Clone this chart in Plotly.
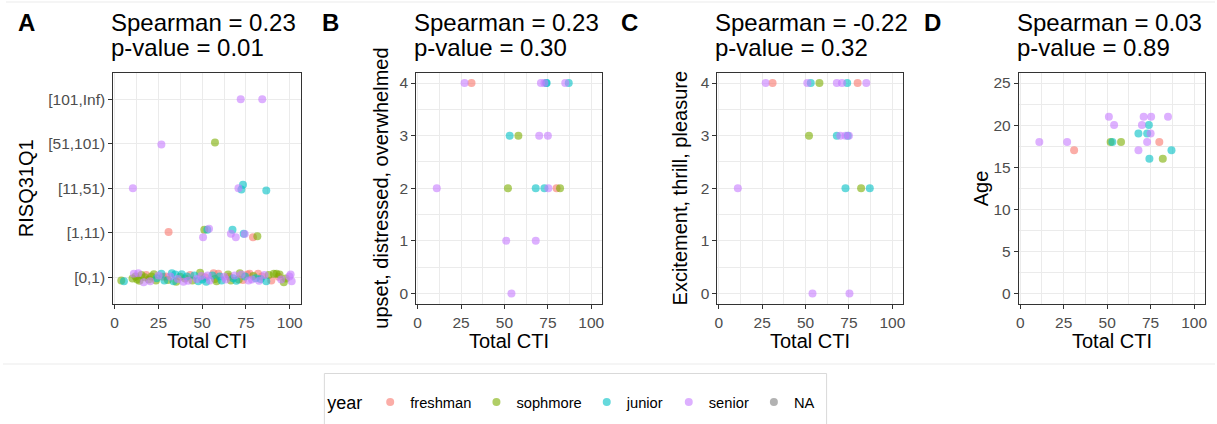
import plotly.graph_objects as go

# ---------------- data ----------------
year_names = {"fr": "freshman", "so": "sophmore", "ju": "junior", "se": "senior", "na": "NA"}
year_order = ["fr", "so", "ju", "se", "na"]
year_colors = {"fr": "#F8766D", "so": "#7CAE00", "ju": "#00BFC4", "se": "#C77CFF", "na": "#7F7F7F"}

# Panel A: RISQ31Q1 category (0..4, jittered) vs Total CTI
a_labels = ["[0,1)", "[1,11)", "[11,51)", "[51,101)", "[101,Inf)"]
a_cti = [72.0, 84.3, 26.7, 57.3, 10.4, 70.7, 72.4, 73.3, 86.6,
         30.8, 50.5, 51.2, 52.9, 53.9, 67.3, 66.4, 69.2, 73.7, 74.3, 79.0, 81.5,
         3.8, 5.3, 11.0, 11.9, 12.9, 15.3, 16.6, 18.0, 19.5, 21.0, 23.6, 25.1, 26.7, 28.4,
         29.3, 31.8, 33.6, 34.6, 36.1, 37.4, 39.3, 41.2, 43.1, 44.4, 46.9, 48.8, 50.1, 51.6,
         53.1, 54.4, 55.8, 57.3, 59.2, 61.1, 62.6, 64.8, 66.4, 67.7, 68.6, 70.9, 72.4, 75.8,
         77.1, 78.4, 80.5, 81.9, 83.4, 85.6, 86.6, 90.9, 92.4, 93.6, 95.1, 96.6, 99.8, 101.1,
         10.2, 13.5, 14.2, 17.2, 20.3, 22.4, 24.0, 27.6, 30.4, 32.7, 35.2, 38.3, 40.2, 42.0,
         45.5, 47.8, 49.5, 52.3, 56.5, 58.2, 60.0, 63.5, 65.5, 69.5, 71.5, 73.2, 74.5, 76.5,
         79.2, 82.5, 84.2, 88.0, 89.5, 94.2, 97.8, 100.5]
a_level = [4.0, 4.0, 2.98, 3.03, 2.0, 2.0, 1.97, 2.08, 1.95,
           1.02, 0.90, 1.07, 1.07, 1.09, 1.07, 0.98, 0.90, 0.98, 0.97, 0.90, 0.92,
           -0.07, -0.09, 0.08, 0.02, -0.05, 0.05, -0.11, 0.05, -0.05, 0.02, -0.07, 0.04, 0.08, -0.07,
           0.02, 0.02, -0.09, 0.06, -0.04, 0.01, -0.10, 0.02, 0.05, -0.07, -0.04, 0.10, -0.05, 0.00,
           0.04, -0.07, 0.04, -0.04, 0.08, -0.07, 0.01, 0.06, -0.07, -0.02, 0.04, -0.05, 0.06, 0.06,
           0.08, -0.05, -0.02, 0.08, -0.04, 0.05, -0.09, 0.08, 0.08, 0.01, -0.05, -0.11, 0.02, -0.09,
           -0.03, 0.09, -0.08, 0.00, -0.09, 0.07, -0.02, 0.01, -0.06, 0.09, -0.10, 0.07, -0.03, -0.08,
           0.04, -0.09, 0.03, -0.10, 0.09, -0.09, 0.02, -0.05, 0.01, -0.08, 0.09, -0.06, 0.02, -0.07,
           0.03, -0.08, 0.02, 0.05, -0.07, 0.06, -0.03, 0.06]
a_year = ["se", "se", "se", "so", "se", "se", "ju", "ju", "ju",
          "fr", "se", "so", "ju", "se", "ju", "se", "se", "ju", "se", "fr", "so",
          "so", "ju", "se", "so", "so", "so", "se", "fr", "so", "so", "so", "se", "ju", "ju",
          "fr", "se", "ju", "ju", "se", "so", "se", "ju", "fr", "so", "se", "so", "ju", "fr",
          "se", "se", "ju", "so", "fr", "ju", "se", "so", "so", "ju", "se", "so", "se", "fr",
          "fr", "se", "ju", "fr", "ju", "se", "ju", "so", "so", "fr", "se", "so", "se", "se",
          "so", "se", "so", "so", "se", "so", "ju", "fr", "so", "ju", "so", "ju", "so", "se",
          "ju", "ju", "se", "ju", "fr", "so", "ju", "se", "fr", "ju", "so", "fr", "ju", "se",
          "so", "se", "fr", "so", "fr", "so", "so", "se"]

# Panels B, C, D: subjects with emotion ratings and age
s_year = ["se", "se", "fr", "se", "so", "ju", "se", "so", "se", "ju", "se",
          "se", "ju", "se", "ju", "ju", "se", "se", "fr", "so", "se", "ju"]
s_cti = [11, 27, 31, 51, 52, 53, 54, 58, 68, 68, 70,
         71, 73, 73, 74, 74.3, 75, 75.3, 80, 82, 85, 87]
s_age = [18, 18, 17, 21, 18, 18, 20, 18, 17, 19, 20,
         21, 19, 18, 20, 16, 19, 21, 18, 16, 21, 17]
s_upset = [2, 4, 4, 1, 2, 3, 0, 3, 1, 2, 3,
           4, 2, 4, 4, 4, 3, 2, 2, 2, 4, 4]
s_excite = [2, 4, 4, 4, 3, 4, 0, 4, 4, 3, 3,
            4, 2, 3, 4, 3, 3, 0, 4, 2, 4, 2]

titles = [("A", "Spearman = 0.23", "p-value = 0.01", "RISQ31Q1"),
          ("B", "Spearman = 0.23", "p-value = 0.30", "upset, distressed, overwhelmed"),
          ("C", "Spearman = -0.22", "p-value = 0.32", "Excitement, thrill, pleasure"),
          ("D", "Spearman = 0.03", "p-value = 0.89", "Age")]

# ---------------- layout helpers ----------------
W, H = 1217, 424
FONT = "Liberation Sans, Arial, Helvetica, sans-serif"
panel_left = [110.7, 415.0, 717.3, 1020.0]
panel_right = [299.0, 601.7, 904.0, 1207.0]
panel_top, panel_bottom = 72.5, 304.0


def px(x):
    return x / W


def py(y):
    return 1 - y / H


fig = go.Figure()
marker_common = dict(size=8, opacity=0.6, line=dict(width=0))

# Panel A traces (carry the legend)
for yk in year_order:
    xs = [x for x, yr in zip(a_cti, a_year) if yr == yk]
    ys = [y for y, yr in zip(a_level, a_year) if yr == yk]
    if not xs:
        xs, ys = [None], [None]
    fig.add_trace(go.Scatter(x=xs, y=ys, mode="markers", name=year_names[yk],
                             legendgroup=yk, showlegend=True,
                             marker=dict(color=year_colors[yk], **marker_common),
                             xaxis="x", yaxis="y"))

panel_vals = [s_upset, s_excite, s_age]
for i, vals in enumerate(panel_vals):
    ax = str(i + 2)
    for yk in year_order[:4]:
        xs = [x for x, yr in zip(s_cti, s_year) if yr == yk]
        ys = [v for v, yr in zip(vals, s_year) if yr == yk]
        fig.add_trace(go.Scatter(x=xs, y=ys, mode="markers", name=year_names[yk],
                                 legendgroup=yk, showlegend=False,
                                 marker=dict(color=year_colors[yk], **marker_common),
                                 xaxis="x" + ax, yaxis="y" + ax))

axis_common = dict(showline=True, mirror=True, linecolor="#333333", linewidth=1,
                   ticks="outside", ticklen=4, tickwidth=1, tickcolor="#333333",
                   tickfont=dict(family=FONT, size=15.5, color="#4D4D4D"),
                   showgrid=True, gridcolor="#EBEBEB", gridwidth=1.3, zeroline=False)

layout = dict(width=W, height=H, margin=dict(l=0, r=0, t=0, b=0),
              paper_bgcolor="white", plot_bgcolor="white",
              font=dict(family=FONT, color="black"))

ydom = [py(panel_bottom), py(panel_top)]
for i in range(4):
    sfx = "" if i == 0 else str(i + 1)
    layout["xaxis" + sfx] = dict(domain=[px(panel_left[i]), px(panel_right[i])],
                                 anchor="y" + sfx, range=[-0.8, 106.3],
                                 tickvals=[0, 25, 50, 75, 100], ticklabelstandoff=0,
                                 minor=dict(tickvals=[12.5, 37.5, 62.5, 87.5], showgrid=True,
                                            gridcolor="#EBEBEB", gridwidth=0.7, ticks=""),
                                 **axis_common)
    ydict = dict(domain=ydom, anchor="x" + sfx, **axis_common)
    if i == 0:
        ydict.update(range=[-0.6, 4.6], tickvals=[0, 1, 2, 3, 4], ticktext=a_labels)
    elif i in (1, 2):
        ydict.update(range=[-0.2, 4.2], tickvals=[0, 1, 2, 3, 4],
                     minor=dict(tickvals=[0.5, 1.5, 2.5, 3.5], showgrid=True,
                                gridcolor="#EBEBEB", gridwidth=0.7, ticks=""))
    else:
        ydict.update(range=[-1.25, 26.25], tickvals=[0, 5, 10, 15, 20, 25],
                     minor=dict(tickvals=[2.5, 7.5, 12.5, 17.5, 22.5], showgrid=True,
                                gridcolor="#EBEBEB", gridwidth=0.7, ticks=""))
    layout["yaxis" + sfx] = ydict

annotations = []
letter_x = [13, 318, 619, 923]
ytitle_x = [23, 380, 680, 982]
for i, (letter, t1, t2, ytitle) in enumerate(titles):
    annotations.append(dict(x=px(letter_x[i]), y=py(22), xref="paper", yref="paper",
                            text="<b>" + letter + "</b>", showarrow=False,
                            xanchor="left", yanchor="middle",
                            font=dict(family=FONT, size=24, color="black")))
    annotations.append(dict(x=px(panel_left[i] - 4), y=py(22), xref="paper", yref="paper",
                            text=t1, showarrow=False, xanchor="left", yanchor="middle",
                            font=dict(family=FONT, size=24, color="black")))
    annotations.append(dict(x=px(panel_left[i] - 4), y=py(47), xref="paper", yref="paper",
                            text=t2, showarrow=False, xanchor="left", yanchor="middle",
                            font=dict(family=FONT, size=24, color="black")))
    annotations.append(dict(x=px(ytitle_x[i]), y=py((panel_top + panel_bottom) / 2),
                            xref="paper", yref="paper", text=ytitle, textangle=-90,
                            showarrow=False, xanchor="center", yanchor="middle",
                            font=dict(family=FONT, size=20, color="black")))
    annotations.append(dict(x=px((panel_left[i] + panel_right[i]) / 2), y=py(341),
                            xref="paper", yref="paper", text="Total CTI",
                            showarrow=False, xanchor="center", yanchor="middle",
                            font=dict(family=FONT, size=20, color="black")))
layout["annotations"] = annotations

layout["shapes"] = [
    dict(type="line", xref="paper", yref="paper", x0=px(3), x1=1, y0=py(2), y1=py(2),
         line=dict(color="#EBEBEB", width=1)),
    dict(type="line", xref="paper", yref="paper", x0=0, x1=1, y0=py(364), y1=py(364),
         line=dict(color="#EBEBEB", width=1)),
    dict(type="rect", xref="paper", yref="paper", x0=px(322.7), x1=px(827),
         y0=py(440), y1=py(373.5), line=dict(color="#D9D9D9", width=1)),
]

layout["legend"] = dict(orientation="h", x=px(323.5), y=py(386), xanchor="left", yanchor="top",
                        bgcolor="rgba(0,0,0,0)", borderwidth=0,
                        title=dict(text="year", font=dict(family=FONT, size=18, color="black")),
                        font=dict(family=FONT, size=14.7, color="black"),
                        itemsizing="trace")

fig.update_layout(**layout)
fig.write_html("out.html")
